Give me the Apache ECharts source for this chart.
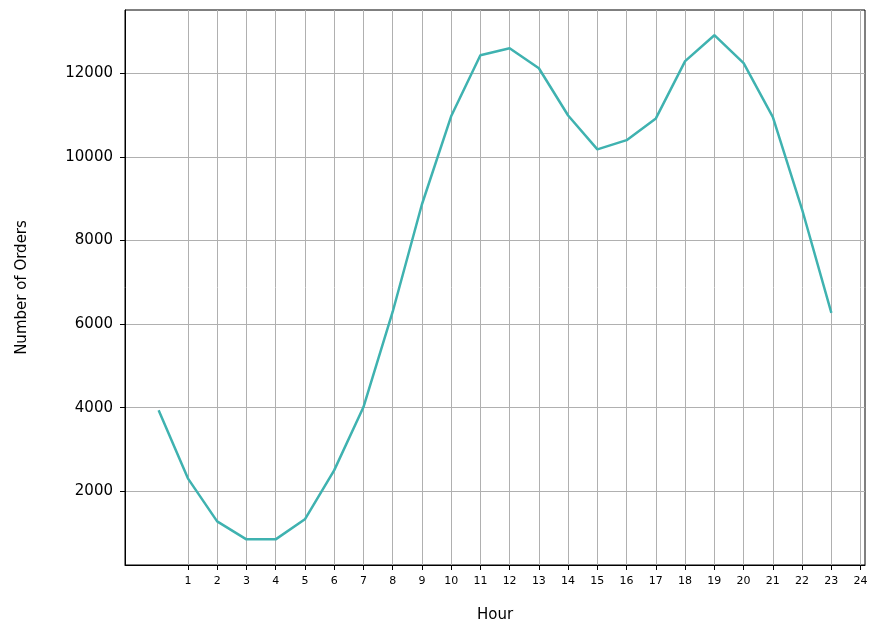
<!DOCTYPE html>
<html><head><meta charset="utf-8">
<script src="https://cdn.jsdelivr.net/npm/echarts@6/dist/echarts.min.js"></script>
<style>html,body{margin:0;padding:0;background:#fff}#c{width:884px;height:631px}</style>
</head><body><div id="c"></div>
<script>
const hours = [0,1,2,3,4,5,6,7,8,9,10,11,12,13,14,15,16,17,18,19,20,21,22,23];
const orders = [3940,2310,1280,850,850,1330,2500,4010,6290,8860,10970,12430,12600,12120,10990,10180,10400,10920,12290,12910,12240,10950,8740,6270];
const xTicks = [1,2,3,4,5,6,7,8,9,10,11,12,13,14,15,16,17,18,19,20,21,22,23,24];
const yTicks = [2000,4000,6000,8000,10000,12000];
const chart = echarts.init(document.getElementById('c'));
const font = 'DejaVu Sans';
chart.setOption({
  animation:false,
  grid:{left:125,right:19,top:10,bottom:66,show:true,borderColor:'#000',borderWidth:1},
  xAxis:{type:'value',min:-1.15,max:24.15,name:'Hour',nameLocation:'middle',nameGap:43,
    nameTextStyle:{fontFamily:font,fontSize:15,color:'#000'},
    axisLine:{show:true,onZero:false,lineStyle:{color:'#000'}},
    axisTick:{show:true,customValues:xTicks,length:5,lineStyle:{color:'#000'}},
    axisLabel:{customValues:xTicks,fontFamily:font,fontSize:11,color:'#000',margin:11},
    splitLine:{show:true,lineStyle:{color:'#b0b0b0',width:1}}},
  yAxis:{type:'value',min:237,max:13513,name:'Number of Orders',nameLocation:'middle',nameGap:95,
    nameTextStyle:{fontFamily:font,fontSize:15,color:'#000'},
    axisLine:{show:true,onZero:false,lineStyle:{color:'#000'}},
    axisTick:{show:true,customValues:yTicks,length:5,lineStyle:{color:'#000'}},
    axisLabel:{customValues:yTicks,fontFamily:font,fontSize:15,color:'#000',margin:12,formatter:v=>String(v)},
    splitLine:{show:true,lineStyle:{color:'#b0b0b0',width:1}}},
  series:[{type:'line',data:hours.map((h,i)=>[h,orders[i]]),showSymbol:false,
    lineStyle:{color:'#3fb2b0',width:2.5}}]
});
</script></body></html>
